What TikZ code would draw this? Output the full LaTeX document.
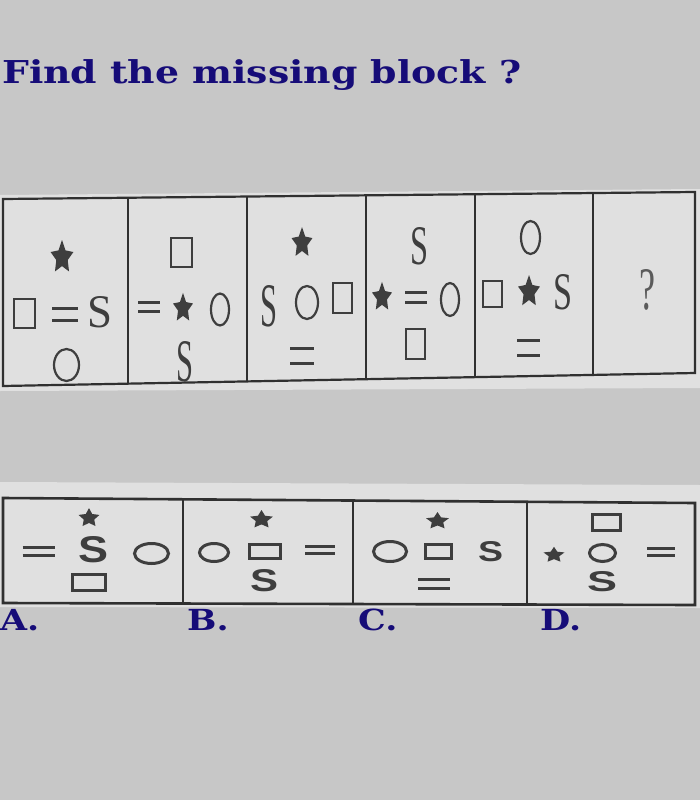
\documentclass[tikz,border=0pt]{standalone}
\usepackage{fontspec}
\usepackage{graphicx}
\usepackage{tikz}
\usetikzlibrary{calc}
\newfontfamily\headfont{DejaVu Serif}
\newfontfamily\printserif{Liberation Serif}
\newfontfamily\printsans{Liberation Sans}
\definecolor{bggray}    {RGB}{199,199,199}
\definecolor{papergray} {RGB}{224,224,224}
\definecolor{inkgray}   {RGB}{62,62,62}
\definecolor{frameink}  {RGB}{48,48,48}
\definecolor{titleblue} {RGB}{22,12,120}
\newcommand{\fitglyph}[3]{\resizebox{#1pt}{#2pt}{#3}}
\newcommand{\widetext}[1]{\scalebox{1.2}[1]{#1}}
\tikzset{
  framepen/.style ={draw=frameink, line width=2.2pt},
  roughpen/.style ={draw=frameink, line width=2.6pt},
  sqmark/.style   ={draw=inkgray, line width=2.2pt},
  sqmarkb/.style  ={draw=inkgray, line width=3pt},
  ringmark/.style ={draw=inkgray, line width=2.2pt},
  ringmarkb/.style={draw=inkgray, line width=3pt},
  eqline/.style   ={draw=inkgray, line width=3pt},
  glyphnode/.style={inner sep=0pt, text=inkgray},
  headline/.style ={anchor=base west, inner sep=0pt, text=titleblue,
                    font=\headfont\bfseries\fontsize{31.5}{36}\selectfont},
  optlabel/.style ={anchor=base west, inner sep=0pt, text=titleblue,
                    font=\headfont\bfseries\fontsize{29}{33}\selectfont},
  pics/starmark/.style 2 args={code={
    \fill[inkgray, scale=#1, yscale=#2] (-90:1)
      \foreach \k in {1,...,9}{ -- (-90+36*\k:{0.75+0.25*cos(180*\k)})} -- cycle;}},
  pics/eqbars/.style 2 args={code={
    \draw[eqline] (-#1,-#2) -- (#1,-#2) (-#1,#2) -- (#1,#2);}},
}

\begin{document}
\begin{tikzpicture}[x=1pt, y=-1pt]
  \useasboundingbox[fill=bggray] (0,0) rectangle (700,800);

  \node[headline] (title) at (2,83) {\widetext{Find the missing block ?}};

  %% photo strips
  \fill[papergray] (0,195) -- (700,189) -- (700,388) -- (0,391) -- cycle;
  \fill[papergray] (0,482) -- (700,485) -- (700,608) -- (0,607) -- cycle;

  %% question row frame
  \coordinate (tl) at (3,199);   \coordinate (tr) at (695,192);
  \coordinate (bl) at (3,386);   \coordinate (br) at (695,373);
  \draw[framepen] (tl) -- (tr) -- (br) -- (bl) -- cycle;
  \foreach \t in {0.1806,0.3526,0.5246,0.6821,0.8526}
    \draw[framepen] ($(tl)!\t!(tr)$) -- ($(bl)!\t!(br)$);

  %% cell 1
  \pic at (62,257.4) {starmark={12}{1.45}};
  \draw[sqmark] (14,299) rectangle (35,328);
  \pic at (65,314.3) {eqbars={13}{5.7}};
  \node[glyphnode] (sA) at (100,312.5) {\printserif\fitglyph{25}{31}{S}};
  \draw[ringmark] (66.5,365) ellipse [x radius=12.5pt, y radius=16pt];

  %% cell 2
  \draw[sqmark] (171,238) rectangle (192,267);
  \pic at (149,306.5) {eqbars={11}{4.5}};
  \pic at (183,308.2) {starmark={10.5}{1.45}};
  \draw[ringmark] (220,309.5) ellipse [x radius=9pt, y radius=16pt];
  \node[glyphnode] (sB) at (185,362) {\printserif\fitglyph{17}{40}{S}};

  %% cell 3
  \pic at (302,243) {starmark={11}{1.45}};
  \node[glyphnode] (sC) at (269,306) {\printserif\fitglyph{17}{41}{S}};
  \draw[ringmark] (307,302.5) ellipse [x radius=11pt, y radius=16.5pt];
  \draw[sqmark] (333,283) rectangle (352,313);
  \pic at (302,355.8) {eqbars={12}{7.5}};

  %% cell 4
  \node[glyphnode] (sD) at (419,246.5) {\printserif\fitglyph{18}{37}{S}};
  \pic at (382,297.2) {starmark={10.5}{1.45}};
  \pic at (416,297) {eqbars={11}{5}};
  \draw[ringmark] (450,299.5) ellipse [x radius=9pt, y radius=16.5pt];
  \draw[sqmark] (406,329) rectangle (425,359);

  %% cell 5
  \draw[ringmark] (530.5,237.5) ellipse [x radius=9.5pt, y radius=16.5pt];
  \draw[sqmark] (483,281) rectangle (502,307);
  \pic at (529,291.7) {starmark={11.5}{1.45}};
  \node[glyphnode] (sE) at (562.5,292.5) {\printserif\fitglyph{19}{35}{S}};
  \pic at (528.5,347.8) {eqbars={11.5}{7.8}};

  %% cell 6
  \node[glyphnode, text=inkgray!85] (qmark) at (647.5,290)
        {\printserif\fitglyph{16}{40}{?}};

  %% answer row frame
  \coordinate (btl) at (3,498);  \coordinate (btr) at (695,503);
  \coordinate (bbl) at (3,603);  \coordinate (bbr) at (695,605);
  \draw[roughpen] (btl) -- (btr) -- (bbr) -- (bbl) -- cycle;
  \foreach \t in {0.2601,0.5058,0.7572}
    \draw[roughpen] ($(btl)!\t!(btr)$) -- ($(bbl)!\t!(bbr)$);

  %% option A
  \pic at (89,518) {starmark={11}{0.9}};
  \pic at (38.5,551) {eqbars={16}{4}};
  \node[glyphnode] (optAs) at (93,550) {\printsans\bfseries\fitglyph{30}{26}{S}};
  \draw[ringmarkb] (151.5,553.5) ellipse [x radius=17pt, y radius=10pt];
  \draw[sqmarkb] (72,574) rectangle (105,590);

  %% option B
  \pic at (261.5,519.6) {starmark={12}{0.8}};
  \draw[ringmarkb] (214,552.5) ellipse [x radius=14.5pt, y radius=9pt];
  \draw[sqmarkb] (249,544) rectangle (280,558);
  \pic at (320,550) {eqbars={15}{3.5}};
  \node[glyphnode] (optBs) at (264,581) {\printsans\bfseries\fitglyph{28}{22}{S}};

  %% option C
  \pic at (437.5,521) {starmark={12}{0.75}};
  \draw[ringmarkb] (390,551.5) ellipse [x radius=16.5pt, y radius=10pt];
  \draw[sqmarkb] (425,544) rectangle (451,558);
  \node[glyphnode] (optCs) at (490.5,552) {\printsans\bfseries\fitglyph{25}{20}{S}};
  \pic at (434,583.5) {eqbars={16}{4.5}};

  %% option D
  \draw[sqmarkb] (592,514) rectangle (620,530);
  \pic at (554,555) {starmark={11}{0.75}};
  \draw[ringmarkb] (602.5,553) ellipse [x radius=13pt, y radius=8.5pt];
  \pic at (661,551.5) {eqbars={14}{3.5}};
  \node[glyphnode] (optDs) at (602,582) {\printsans\bfseries\fitglyph{30}{20}{S}};

  %% option letters
  \node[optlabel] (labA) at (0,630)   {\widetext{A.}};
  \node[optlabel] (labB) at (187,630) {\widetext{B.}};
  \node[optlabel] (labC) at (358,630) {\widetext{C.}};
  \node[optlabel] (labD) at (540,630) {\widetext{D.}};
\end{tikzpicture}
\end{document}
